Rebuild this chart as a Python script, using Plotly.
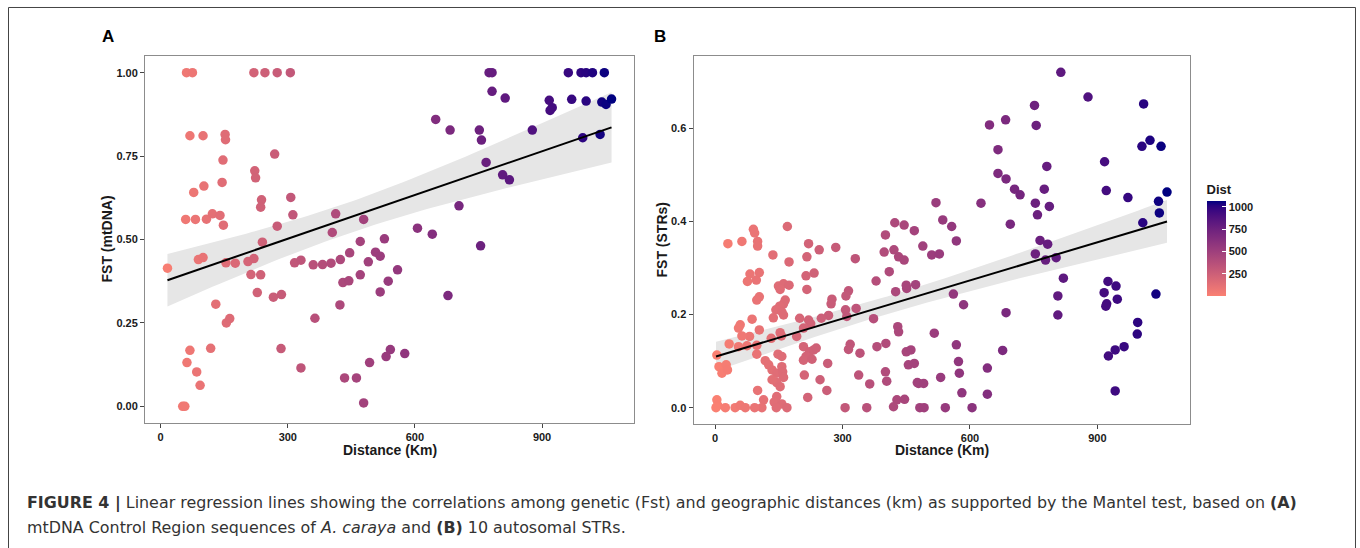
import numpy as np
import plotly.graph_objects as go

# ---------------- data ----------------
# Panel A : mtDNA FST vs distance (km)
dist_a = [61, 75, 220, 246, 275, 306, 69, 100, 152, 153, 147, 269, 222, 224, 145, 78, 102, 238, 236, 307,
          312, 275, 59, 82, 108, 122, 140, 148, 413, 479, 405, 16, 89, 100, 154, 176, 206, 220, 213, 236,
          240, 228, 266, 285, 130, 155, 163, 69, 62, 85, 93, 118, 52, 57, 284, 316, 331, 364, 331, 360,
          382, 402, 424, 430, 444, 423, 446, 434, 462, 471, 471, 490, 493, 479, 507, 518, 528, 559, 537, 518,
          606, 641, 755, 678, 542, 532, 576, 775, 782, 782, 813, 962, 992, 1004, 1019, 1047, 970, 1004, 917, 924,
          919, 1041, 1051, 1064, 996, 1037, 877, 649, 683, 752, 757, 768, 807, 823, 704]
fst_a = [1.00, 1.00, 1.00, 1.00, 1.00, 1.00, 0.811, 0.811, 0.815, 0.799, 0.738, 0.756, 0.706, 0.685, 0.671, 0.641, 0.660, 0.619, 0.597, 0.626,
         0.574, 0.540, 0.560, 0.560, 0.561, 0.577, 0.572, 0.543, 0.577, 0.560, 0.521, 0.414, 0.440, 0.446, 0.430, 0.429, 0.434, 0.443, 0.395, 0.394,
         0.492, 0.341, 0.327, 0.335, 0.306, 0.250, 0.263, 0.168, 0.131, 0.103, 0.063, 0.174, 0.0, 0.0, 0.173, 0.430, 0.438, 0.264, 0.115, 0.424,
         0.425, 0.429, 0.440, 0.371, 0.376, 0.304, 0.460, 0.085, 0.085, 0.394, 0.494, 0.433, 0.131, 0.010, 0.462, 0.450, 0.502, 0.409, 0.375, 0.343,
         0.534, 0.516, 0.481, 0.332, 0.170, 0.149, 0.158, 1.0, 1.0, 0.944, 0.924, 1.0, 1.0, 1.0, 1.0, 1.0, 0.920, 0.915, 0.917, 0.895,
         0.887, 0.912, 0.905, 0.921, 0.805, 0.815, 0.828, 0.860, 0.828, 0.828, 0.798, 0.731, 0.694, 0.679, 0.601]

# Panel B : STR FST vs distance (km)
dist_b = [90, 93, 170, 30, 63, 100, 100, 136, 174, 220, 245, 284, 216, 330, 401, 423, 445, 469, 398, 421, 432, 445,
          82, 104, 76, 97, 149, 161, 174, 153, 216, 214, 233, 104, 98, 165, 161, 152, 143, 157, 137, 161, 275, 273,
          314, 308, 307, 332, 310, 267, 250, 199, 220, 225, 192, 208, 373, 379, 410, 425, 451, 450, 472,
          59, 55, 87, 104, 81, 63, 33, 55, 75, 98, 98, 153, 132, 156, 4, 9, 26, 16, 29,
          118, 126, 134, 145, 157, 159, 161, 145, 134, 153, 148, 157,
          208, 222, 214, 232, 208, 228, 238, 210, 265, 247, 263, 218, 100, 114, 145, 139, 157, 144, 169, 110, 93,
          4, 6, 2, 24, 47, 59, 71,
          318, 314, 341, 338, 364, 381, 402, 401, 404, 430, 432, 450, 461, 455, 469, 476, 428, 446, 420, 306, 357, 482,
          520, 626, 754, 787, 759, 972, 1044, 1046, 1007, 536, 557, 568, 489, 510, 528, 695, 765, 783, 754, 778, 803,
          820, 807, 807, 561, 585, 685, 516, 568, 677, 573, 575, 531, 641, 479, 491, 492, 542, 605, 581, 641,
          925, 944, 916, 947, 922, 920, 1038, 995, 994, 926, 942, 963, 942,
          814, 878, 1009, 752, 646, 684, 756, 666, 1005, 1024, 1050, 917, 781, 666, 685, 705, 718, 775, 921, 1064]
fst_b = [0.383, 0.375, 0.389, 0.352, 0.357, 0.357, 0.347, 0.328, 0.313, 0.352, 0.339, 0.344, 0.324, 0.320, 0.371, 0.397, 0.392, 0.380, 0.334, 0.339, 0.324, 0.317,
         0.287, 0.290, 0.271, 0.274, 0.261, 0.266, 0.263, 0.254, 0.254, 0.283, 0.289, 0.238, 0.231, 0.231, 0.223, 0.218, 0.210, 0.206, 0.193, 0.199, 0.233, 0.223,
         0.251, 0.240, 0.210, 0.213, 0.196, 0.198, 0.192, 0.192, 0.188, 0.180, 0.153, 0.171, 0.191, 0.272, 0.292, 0.249, 0.256, 0.263, 0.264,
         0.178, 0.171, 0.190, 0.167, 0.153, 0.154, 0.137, 0.131, 0.133, 0.134, 0.115, 0.161, 0.149, 0.154, 0.113, 0.088, 0.092, 0.074, 0.081,
         0.101, 0.092, 0.081, 0.074, 0.088, 0.077, 0.065, 0.054, 0.060, 0.045, 0.115, 0.110,
         0.131, 0.120, 0.110, 0.124, 0.102, 0.104, 0.128, 0.070, 0.095, 0.060, 0.037, 0.022, 0.037, 0.017, 0.024, 0.012, 0.008, 0.0, 0.0, 0.0, 0.0,
         0.017, 0.005, 0.0, 0.0, 0.0, 0.005, 0.0,
         0.136, 0.125, 0.117, 0.070, 0.051, 0.131, 0.138, 0.077, 0.057, 0.174, 0.163, 0.120, 0.124, 0.092, 0.095, 0.054, 0.017, 0.018, 0.002, 0.0, 0.0, 0.0,
         0.440, 0.439, 0.439, 0.432, 0.414, 0.451, 0.443, 0.418, 0.397, 0.403, 0.389, 0.358, 0.347, 0.328, 0.330, 0.394, 0.359, 0.351, 0.330, 0.317, 0.322,
         0.278, 0.240, 0.199, 0.244, 0.221, 0.204, 0.160, 0.135, 0.123, 0.099, 0.074, 0.065, 0.085, 0.052, 0.052, 0.0, 0.0, 0.0, 0.032, 0.029,
         0.271, 0.261, 0.247, 0.233, 0.223, 0.218, 0.244, 0.183, 0.158, 0.111, 0.124, 0.131, 0.036,
         0.720, 0.667, 0.652, 0.649, 0.607, 0.618, 0.606, 0.554, 0.561, 0.574, 0.561, 0.528, 0.518, 0.503, 0.491, 0.469, 0.457, 0.469, 0.466, 0.463]

x_ticks = [0, 300, 600, 900]
ya_ticks = [0.0, 0.25, 0.5, 0.75, 1.0]
ya_labels = ["0.00", "0.25", "0.50", "0.75", "1.00"]
yb_ticks = [0.0, 0.2, 0.4, 0.6]
yb_labels = ["0.0", "0.2", "0.4", "0.6"]
cbar_ticks = [250, 500, 750, 1000]

# ---------------- helpers ----------------
W, H = 1360, 548


def px_x(p):
    return p / W


def px_y(p):
    return 1 - p / H


def srgb_to_lab(hexc):
    r, g, b = [int(hexc[i:i + 2], 16) / 255 for i in (1, 3, 5)]
    def lin(c):
        return c / 12.92 if c <= 0.04045 else ((c + 0.055) / 1.055) ** 2.4
    r, g, b = lin(r), lin(g), lin(b)
    X = (0.4124 * r + 0.3576 * g + 0.1805 * b) / 0.95047
    Y = (0.2126 * r + 0.7152 * g + 0.0722 * b)
    Z = (0.0193 * r + 0.1192 * g + 0.9505 * b) / 1.08883
    def f(t):
        return t ** (1 / 3) if t > 0.008856 else 7.787 * t + 16 / 116
    fx, fy, fz = f(X), f(Y), f(Z)
    return 116 * fy - 16, 500 * (fx - fy), 200 * (fy - fz)


def lab_to_srgb(L, a, b):
    fy = (L + 16) / 116
    fx = fy + a / 500
    fz = fy - b / 200
    def finv(t):
        return t ** 3 if t ** 3 > 0.008856 else (t - 16 / 116) / 7.787
    X, Y, Z = finv(fx) * 0.95047, finv(fy), finv(fz) * 1.08883
    r = 3.2406 * X - 1.5372 * Y - 0.4986 * Z
    g = -0.9689 * X + 1.8758 * Y + 0.0415 * Z
    bb = 0.0557 * X - 0.2040 * Y + 1.0570 * Z
    def gam(c):
        c = c * 12.92 if c <= 0.0031308 else 1.055 * c ** (1 / 2.4) - 0.055
        return int(round(min(max(c, 0), 1) * 255))
    return "rgb(%d,%d,%d)" % (gam(r), gam(g), gam(bb))


low, high = srgb_to_lab("#FA8072"), srgb_to_lab("#000080")
colorscale = []
for t in np.linspace(0, 1, 21):
    lab = [low[i] + (high[i] - low[i]) * t for i in range(3)]
    colorscale.append([float(t), lab_to_srgb(*lab)])

all_dist = dist_a + dist_b
cmin, cmax = min(all_dist), max(all_dist)


def lm_band(x, y, tval=1.975, n_pts=80):
    x = np.asarray(x, float)
    y = np.asarray(y, float)
    n = len(x)
    slope, inter = np.polyfit(x, y, 1)
    resid = y - (slope * x + inter)
    s = np.sqrt(np.sum(resid ** 2) / (n - 2))
    xbar = x.mean()
    sxx = np.sum((x - xbar) ** 2)
    xs = np.linspace(x.min(), x.max(), n_pts)
    fit = slope * xs + inter
    se = s * np.sqrt(1 / n + (xs - xbar) ** 2 / sxx)
    return xs, fit, fit - tval * se, fit + tval * se


fig = go.Figure()

panels = [
    (dist_a, fst_a, "x", "y"),
    (dist_b, fst_b, "x2", "y2"),
]
for dx, fy, xa, yax in panels:
    xs, fit, lo, hi = lm_band(dx, fy)
    fig.add_trace(go.Scatter(
        x=np.concatenate([xs, xs[::-1]]), y=np.concatenate([hi, lo[::-1]]),
        fill="toself", fillcolor="#E6E6E6", line=dict(width=0), mode="lines",
        hoverinfo="skip", showlegend=False, xaxis=xa, yaxis=yax))
    fig.add_trace(go.Scatter(
        x=dx, y=fy, mode="markers",
        marker=dict(size=9.5, color=dx, coloraxis="coloraxis", line=dict(width=0)),
        showlegend=False, xaxis=xa, yaxis=yax))
    fig.add_trace(go.Scatter(
        x=xs, y=fit, mode="lines", line=dict(color="black", width=2),
        hoverinfo="skip", showlegend=False, xaxis=xa, yaxis=yax))

FONT = "Liberation Sans, Arial, sans-serif"
tick_font = dict(family=FONT, size=11, color="#1a1a1a", weight="bold")
axis_common = dict(showgrid=False, zeroline=False, showline=True, mirror=True, linecolor="#8c8c8c",
                   linewidth=1, ticks="outside", ticklen=4, tickwidth=1, tickcolor="#444",
                   tickfont=tick_font)

fig.update_layout(
    width=W, height=H,
    margin=dict(l=0, r=0, t=0, b=0),
    paper_bgcolor="white", plot_bgcolor="white",
    font=dict(family=FONT),
    xaxis=dict(domain=[px_x(145), px_x(634)], range=[-37, 1117], tickvals=x_ticks,
               anchor="y", **axis_common),
    yaxis=dict(domain=[px_y(423), px_y(56)], range=[-0.05, 1.05], tickvals=ya_ticks,
               ticktext=ya_labels, anchor="x", **axis_common),
    xaxis2=dict(domain=[px_x(693.5), px_x(1189.5)], range=[-51, 1117], tickvals=x_ticks,
                anchor="y2", **axis_common),
    yaxis2=dict(domain=[px_y(424), px_y(56)], range=[-0.035, 0.755], tickvals=yb_ticks,
                ticktext=yb_labels, anchor="x2", **axis_common),
    coloraxis=dict(
        colorscale=colorscale, cmin=cmin, cmax=cmax,
        colorbar=dict(
            title=dict(text="Dist", side="top",
                       font=dict(family=FONT, size=13, color="#1a1a1a", weight="bold")),
            x=px_x(1206.5), xanchor="left", xref="paper",
            y=px_y(296), yanchor="bottom", yref="paper",
            len=(296 - 181) / H, lenmode="fraction", thickness=19, thicknessmode="pixels",
            outlinewidth=0, tickvals=cbar_ticks, ticks="inside", ticklen=4,
            tickcolor="white", tickwidth=1,
            tickfont=dict(family=FONT, size=11, color="#1a1a1a", weight="bold"),
            ypad=0, xpad=0,
        ),
    ),
)

title_font = dict(family=FONT, size=14, color="#1a1a1a", weight="bold")
annotations = [
    dict(text="A", x=px_x(108), y=px_y(36), font=dict(family=FONT, size=17, color="black", weight="bold")),
    dict(text="B", x=px_x(659.5), y=px_y(36), font=dict(family=FONT, size=17, color="black", weight="bold")),
    dict(text="Distance (Km)", x=px_x(389.5), y=px_y(450), font=title_font),
    dict(text="Distance (Km)", x=px_x(941.5), y=px_y(450), font=title_font),
    dict(text="FST (mtDNA)", x=px_x(106), y=px_y(239.5), textangle=-90, font=title_font),
    dict(text="FST (STRs)", x=px_x(661.5), y=px_y(240), textangle=-90, font=title_font),
]
cap_font = dict(family="DejaVu Sans, sans-serif", size=15.9, color="#333333")
annotations.append(dict(
    text="<b>FIGURE 4 |</b> Linear regression lines showing the correlations among genetic (Fst) and "
         "geographic distances (km) as supported by the Mantel test, based on <b>(A)</b>",
    x=px_x(25), y=px_y(503), xanchor="left", font=cap_font))
annotations.append(dict(
    text="mtDNA Control Region sequences of <i>A. caraya</i> and <b>(B)</b> 10 autosomal STRs.",
    x=px_x(25), y=px_y(527), xanchor="left", font=cap_font))
for a in annotations:
    a.setdefault("xanchor", "center")
    a.update(xref="paper", yref="paper", yanchor="middle", showarrow=False)
fig.update_layout(annotations=annotations)

fig.add_shape(type="path", xref="paper", yref="paper",
              path="M %f,%f L %f,%f L %f,%f L %f,%f" % (px_x(8.5), -0.1, px_x(8.5), px_y(7.5),
                                                        px_x(1355.5), px_y(7.5), px_x(1355.5), -0.1),
              line=dict(color="#444444", width=1))

fig.write_html("out.html")
